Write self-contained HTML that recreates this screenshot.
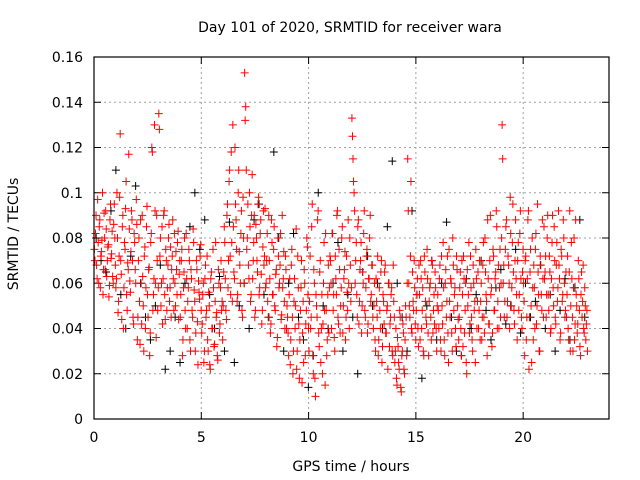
<!DOCTYPE html>
<html><head><meta charset="utf-8"><style>
body{margin:0;background:#fff;}
svg{display:block;font-family:"DejaVu Sans","Liberation Sans",sans-serif;}
</style></head><body>
<svg id="chart" width="640" height="480">
<text x="350" y="32" font-size="14" text-anchor="middle">Day 101 of 2020, SRMTID for receiver wara</text>
<text x="351" y="471" font-size="14" text-anchor="middle">GPS time / hours</text>
<text x="18" y="234" font-size="14" text-anchor="middle" transform="rotate(-90 18 234)">SRMTID / TECUs</text>
<g id="grid"></g>
<g id="ticks"></g>
<g id="black"></g>
<g id="red"></g>
<rect x="94" y="57" width="515" height="362" fill="none" stroke="#000" stroke-width="1.2"/>
</svg>
<script>
const xTicks=[0,5,10,15,20];
const yTicks=[0,0.02,0.04,0.06,0.08,0.1,0.12,0.14,0.16];
const yTickLabels=["0","0.02","0.04","0.06","0.08","0.1","0.12","0.14","0.16"];
const redStep=0.05;
const redValues=[
75,82,68,97,60,88,72,79,55,91,66,84,70,77,59,95,73,63,86,80,
58,100,47,72,126,64,85,40,78,93,55,69,117,61,74,88,45,82,66,97,
35,70,52,88,42,63,30,76,58,94,45,67,38,82,118,55,130,60,90,48,
135,72,50,85,62,92,44,70,58,80,52,76,66,88,48,60,74,55,83,64,
45,70,28,58,80,40,62,52,75,35,66,48,84,57,30,70,43,61,53,77,
38,55,25,62,45,72,30,50,22,65,40,58,33,78,47,26,60,42,70,52,
50,85,62,44,95,70,110,55,78,130,65,120,88,52,100,74,60,92,45,80,
153,138,75,95,62,85,55,108,70,90,48,80,65,98,58,88,42,76,68,93,
60,82,45,70,38,88,55,75,50,64,32,80,58,68,44,90,62,52,72,40,
45,28,62,35,75,20,52,40,84,30,58,18,48,70,38,25,60,42,80,55,
30,72,45,95,20,60,10,50,88,38,65,25,55,42,78,15,48,35,68,58,
70,40,82,55,30,62,90,45,75,38,58,85,50,66,35,72,48,60,80,52,
133,115,100,60,78,45,88,52,70,38,65,82,48,58,75,42,62,90,55,68,
40,60,30,52,72,35,48,65,25,55,42,68,38,50,60,32,45,58,28,52,
25,40,15,32,22,45,12,30,38,20,50,28,115,60,45,105,38,52,70,42,
48,62,32,55,70,40,58,28,65,45,75,38,52,60,35,68,48,42,58,30,
55,40,68,30,50,78,35,60,45,72,25,52,62,38,80,48,58,32,66,44,
45,65,28,55,72,38,60,20,50,78,42,58,35,68,48,25,62,52,40,70,
52,35,68,45,80,55,28,62,42,90,58,38,72,48,65,85,52,40,75,60,
130,60,45,75,88,52,68,40,82,58,95,48,70,62,35,78,55,92,45,65,
60,28,72,45,88,22,65,50,80,35,58,75,42,95,55,30,68,48,62,85,
65,45,80,55,72,38,62,90,50,70,42,78,58,68,35,75,52,88,60,48,
45,72,35,92,50,62,30,80,42,55,38,70,48,28,65,52,40,58,35,48];
const red2Values=[
70,90,62,78,85,58,74,100,66,80,92,63,76,54,88,71,83,60,95,68,
62,80,52,98,70,44,90,58,75,105,48,66,84,56,92,70,42,78,60,86,
45,80,33,60,90,50,72,40,85,55,66,28,78,120,48,62,92,36,70,58,
128,80,60,42,90,55,75,48,68,86,58,45,72,62,82,50,66,78,44,70,
55,75,35,65,48,82,40,58,70,30,62,45,78,52,38,66,24,56,72,48,
42,60,30,68,48,35,56,24,62,40,75,32,52,45,28,66,38,58,48,35,
65,78,48,90,58,105,72,118,52,85,62,95,75,55,110,68,82,48,98,60,
132,110,80,68,100,52,90,62,78,45,86,70,95,55,82,64,48,92,72,58,
70,52,90,62,42,78,55,85,48,66,36,72,60,82,46,58,74,40,66,50,
38,55,24,68,45,30,62,50,22,72,42,35,58,16,52,66,28,48,76,40,
52,40,85,28,66,18,55,45,92,32,70,40,20,60,48,82,28,55,38,72,
60,82,48,36,72,55,92,42,66,50,80,38,62,74,45,56,88,40,68,58,
125,105,92,70,55,85,42,66,78,50,60,92,45,72,38,62,80,52,68,45,
50,35,62,45,28,58,40,70,32,52,65,38,48,22,60,42,55,30,68,45,
30,18,36,25,48,14,28,42,22,35,45,60,92,50,72,40,65,48,58,35,
55,40,68,35,62,48,30,72,52,42,62,28,58,45,70,38,55,65,40,50,
48,62,35,72,42,58,28,66,52,38,75,45,60,30,68,55,40,72,50,35,
58,40,70,32,62,48,25,66,55,38,72,45,30,60,52,75,40,65,48,35,
60,45,78,38,65,52,88,42,70,55,32,75,48,62,92,40,68,58,45,80,
115,68,52,85,45,72,60,98,50,78,65,42,88,55,70,48,82,62,40,75,
52,70,35,62,92,45,75,25,58,68,40,82,50,65,30,72,55,88,45,62,
72,55,90,48,65,40,78,58,85,45,68,52,92,62,38,72,55,80,45,65,
55,40,65,30,78,45,58,35,88,50,42,62,32,55,45,68,38,50,42,30];
const blackStep=0.23;
const blackValues=[80,70,65,92,110,55,40,72,103,60,45,35,50,68,22,30,45,25,60,85,100,75,88,55,40,63,30,87,25,50,60,40,88,95,55,45,118,80,30,60,82,45,35,14,28,100,50,40,60,78,30,55,45,20,65,72,50,60,40,85,114,60,45,30,92,55,18,50,70,35,60,87,45,30,28,62,40,55,70,48,35,58,66,42,50,75,38,60,45,52,68,40,55,30,48,62,35,58,88,45];
const X=v=>94+v*(515/24), Y=v=>419-v*(362/0.16);
const NS="http://www.w3.org/2000/svg";
function mk(t,a,p){const e=document.createElementNS(NS,t);for(const k in a)e.setAttribute(k,a[k]);p.appendChild(e);return e;}
const grid=document.getElementById('grid'),ticks=document.getElementById('ticks');
xTicks.forEach(t=>{const x=X(t);
 if(t>0){const g=mk('line',{x1:x,x2:x,y1:57,y2:419,stroke:'#a0a0a0','stroke-dasharray':'2,3'},grid);
 
 }
 mk('line',{x1:x,x2:x,y1:419,y2:412,stroke:'#000'},ticks);
 mk('line',{x1:x,x2:x,y1:57,y2:64,stroke:'#000'},ticks);
 const tx=mk('text',{x:x,y:442,'font-size':14,'text-anchor':'middle'},ticks);tx.textContent=t;
 
 
});
yTicks.forEach((t,i)=>{const y=Y(t);
 if(i>0&&i<yTicks.length-1){const g=mk('line',{x1:94,x2:609,y1:y,y2:y,stroke:'#a0a0a0','stroke-dasharray':'2,3'},grid);
 
 }
 mk('line',{x1:94,x2:101,y1:y,y2:y,stroke:'#000'},ticks);
 mk('line',{x1:602,x2:609,y1:y,y2:y,stroke:'#000'},ticks);
 const tx=mk('text',{x:83,y:y+5,'font-size':14,'text-anchor':'end'},ticks);tx.textContent=yTickLabels[i];
 
 
});
function plot(vals,step,off,color,gid){const g=document.getElementById(gid);
 vals.forEach((v,i)=>{const x=X(i*step+off),y=Y(v/1000);
  const p=mk('path',{d:`M${x-4},${y}h8M${x},${y-4}v8`,stroke:color,'stroke-width':1,fill:'none'},g);
  
  
 });}
plot(blackValues,blackStep,0.1,'#000',"black");
plot(redValues,redStep,0.02,'#ff0000',"red");
plot(red2Values,redStep,0.045,'#ff0000',"red");
</script>
</body></html>
